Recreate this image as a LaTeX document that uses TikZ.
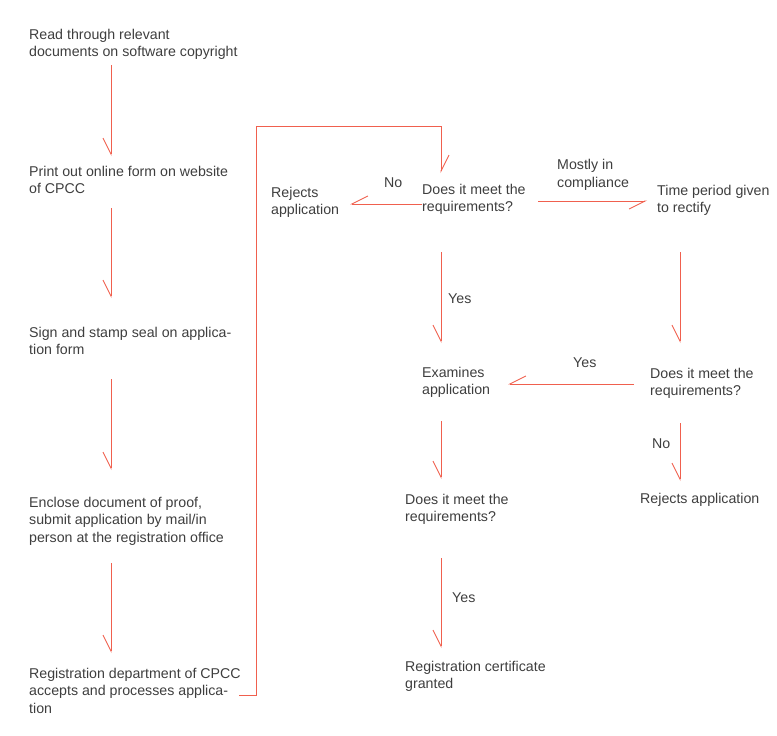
\documentclass[tikz,border=0pt]{standalone}
\usepackage{fontspec}
\setmainfont{Liberation Sans}
\usetikzlibrary{arrows.meta}
\definecolor{linecol}{RGB}{240,96,78}
\definecolor{txtcol}{RGB}{62,62,62}
\begin{document}
\begin{tikzpicture}[x=1pt,y=-1pt,
  txt/.style={anchor=base west, inner sep=0pt, align=left, text=txtcol, font=\fontsize{14.2}{17.5}\selectfont},
  conn/.style={draw=linecol, line width=0.9pt},
  arr/.style={conn, -{Straight Barb[right,length=16pt,width=16pt]}},
  arrL/.style={conn, -{Straight Barb[left,length=16pt,width=16pt]}}]
\useasboundingbox (0,0) rectangle (777,736);
% main nodes (anchored at the baseline of their last line)
\node[txt] (A) at (29,56.5) {Read through relevant\\documents on software copyright};
\node[txt] (B) at (29,193.5) {Print out online form on website\\of CPCC};
\node[txt] (C) at (29,354.5) {Sign and stamp seal on applica-\\tion form};
\node[txt] (D) at (29,542) {Enclose document of proof,\\submit application by mail/in\\person at the registration office};
\node[txt] (E) at (29,713) {Registration department of CPCC\\accepts and processes applica-\\tion};
\node[txt] (Q1) at (422,211.5) {Does it meet the\\requirements?};
\node[txt] (R1) at (271,214.5) {Rejects\\application};
\node[txt] (T) at (657,212.5) {Time period given\\to rectify};
\node[txt] (X) at (422,394.5) {Examines\\application};
\node[txt] (Q2) at (650,395.5) {Does it meet the\\requirements?};
\node[txt] (R2) at (640,503) {Rejects application};
\node[txt] (Q3) at (405,521.5) {Does it meet the\\requirements?};
\node[txt] (G) at (405,688.5) {Registration certificate\\granted};
% labels
\node[txt] (lNo1) at (384,187) {No};
\node[txt] (lMost) at (557,187) {Mostly in\\compliance};
\node[txt] (lYes1) at (448,303) {Yes};
\node[txt] (lYes2) at (573,367) {Yes};
\node[txt] (lNo2) at (652,448) {No};
\node[txt] (lYes3) at (452,602) {Yes};
% connector end points
\coordinate (a1) at (111,65);  \coordinate (a2) at (111,156);
\coordinate (b1) at (111,208); \coordinate (b2) at (111,298);
\coordinate (c1) at (111,379); \coordinate (c2) at (111,470);
\coordinate (d1) at (111,563); \coordinate (d2) at (111,653);
\coordinate (e1) at (239,695); \coordinate (q1in) at (441,173);
\coordinate (q1l) at (422,204); \coordinate (r1r) at (350,204);
\coordinate (q1r) at (538,201); \coordinate (tl) at (647,201);
\coordinate (q1b) at (441,252); \coordinate (xt) at (441,343);
\coordinate (tb) at (680,252);  \coordinate (q2t) at (680,343);
\coordinate (q2l) at (634,384); \coordinate (xr) at (508,384);
\coordinate (q2b) at (680,423); \coordinate (r2t) at (680,481);
\coordinate (xb) at (441,421);  \coordinate (q3t) at (441,479);
\coordinate (q3b) at (441,558); \coordinate (gt) at (441,648);
% connectors
\draw[arr] (a1) -- (a2);
\draw[arr] (b1) -- (b2);
\draw[arr] (c1) -- (c2);
\draw[arr] (d1) -- (d2);
\draw[arrL] (e1) -- (256,695) -- (256,126) -- (441,126) -- (q1in);
\draw[arr] (q1l) -- (r1r);
\draw[arr] (q1r) -- (tl);
\draw[arr] (q1b) -- (xt);
\draw[arr] (tb) -- (q2t);
\draw[arr] (q2l) -- (xr);
\draw[arr] (q2b) -- (r2t);
\draw[arr] (xb) -- (q3t);
\draw[arr] (q3b) -- (gt);
\end{tikzpicture}
\end{document}
